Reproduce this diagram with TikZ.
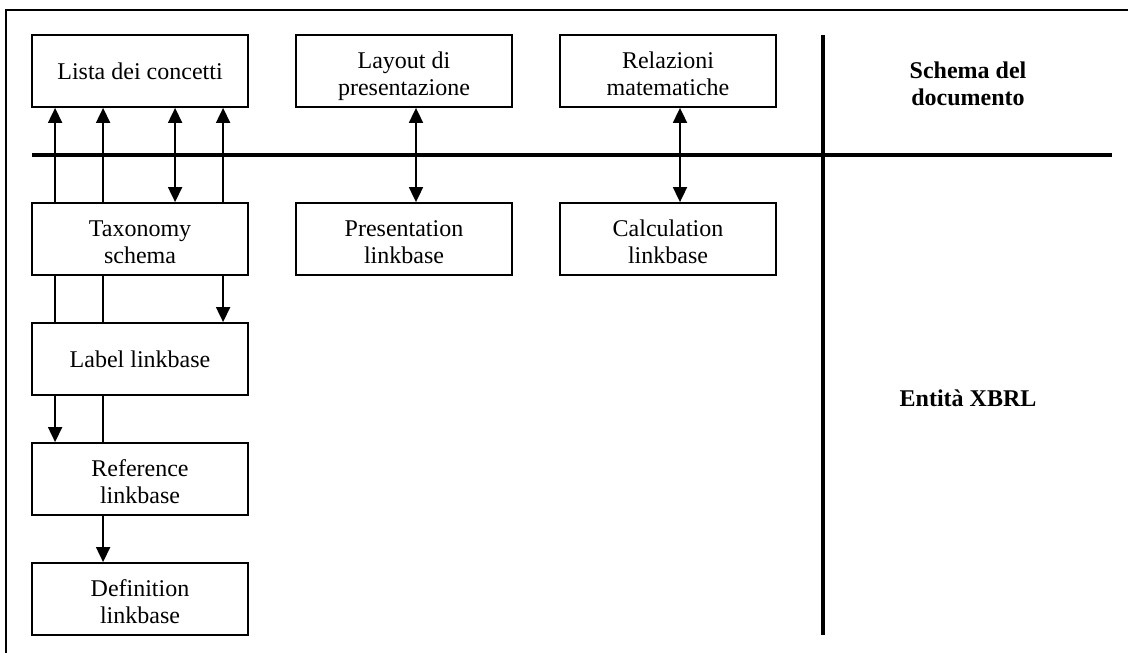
\documentclass[tikz,border=0pt]{standalone}
\usepackage{fontspec}
\setmainfont{Liberation Serif}
\usetikzlibrary{arrows.meta}
\begin{document}
\begin{tikzpicture}[x=1pt,y=-1pt,
  box/.style={draw,line width=1.8pt,minimum width=216pt,minimum height=72pt,inner sep=0pt,
    align=center,font=\fontsize{24}{27.5}\selectfont},
  twoline/.style={text height=49pt,text depth=0pt},
  lbl/.style={align=center,font=\fontsize{24}{27}\selectfont\bfseries},
  conn/.style={line width=1.8pt},
  arr/.style={conn,-{Triangle[width=14pt,length=15pt]}},
  darr/.style={conn,{Triangle[width=14pt,length=15pt]}-{Triangle[width=14pt,length=15pt]}},
  sep/.style={line width=3.2pt}]
\useasboundingbox (0,0) rectangle (1128,653);
\draw[line width=1.8pt] (1128,10) -- (6,10) -- (6,653);
% boxes
\node[box] (lista) at (140,71) {Lista dei concetti};
\node[box,twoline] (layout) at (404,71) {Layout di\\presentazione};
\node[box,twoline] (relaz) at (668,71) {Relazioni\\matematiche};
\node[box,twoline] (tax) at (140,239) {Taxonomy\\schema};
\node[box,twoline] (pres) at (404,239) {Presentation\\linkbase};
\node[box,twoline] (calc) at (668,239) {Calculation\\linkbase};
\node[box] (label) at (140,359) {Label linkbase};
\node[box,twoline] (ref) at (140,479) {Reference\\linkbase};
\node[box,twoline] (def) at (140,599) {Definition\\linkbase};
% labels
\node[lbl] (schema) at (968,84) {Schema del\\documento};
\node[lbl] (entita) at (968,398) {Entità XBRL};
% separators
\coordinate (hl) at (32,155);
\coordinate (hr) at (1112,155);
\coordinate (vt) at (823,35);
\coordinate (vb) at (823,635);
\draw[sep] (hl) -- (hr);
\draw[sep] (vt) -- (vb);
% connectors
\draw[arr] ([xshift=24pt]tax.north west) -- ([xshift=24pt]lista.south west);
\draw[arr] ([xshift=72pt]tax.north west) -- ([xshift=72pt]lista.south west);
\draw[darr] ([xshift=144pt]tax.north west) -- ([xshift=144pt]lista.south west);
\draw[arr] ([xshift=192pt]tax.north west) -- ([xshift=192pt]lista.south west);
\draw[darr] ([xshift=12pt]pres.north) -- ([xshift=12pt]layout.south);
\draw[darr] ([xshift=12pt]calc.north) -- ([xshift=12pt]relaz.south);
\draw[conn] ([xshift=24pt]tax.south west) -- ([xshift=24pt]label.north west);
\draw[conn] ([xshift=72pt]tax.south west) -- ([xshift=72pt]label.north west);
\draw[arr] ([xshift=192pt]tax.south west) -- ([xshift=192pt]label.north west);
\draw[arr] ([xshift=24pt]label.south west) -- ([xshift=24pt]ref.north west);
\draw[conn] ([xshift=72pt]label.south west) -- ([xshift=72pt]ref.north west);
\draw[arr] ([xshift=72pt]ref.south west) -- ([xshift=72pt]def.north west);
\end{tikzpicture}
\end{document}
